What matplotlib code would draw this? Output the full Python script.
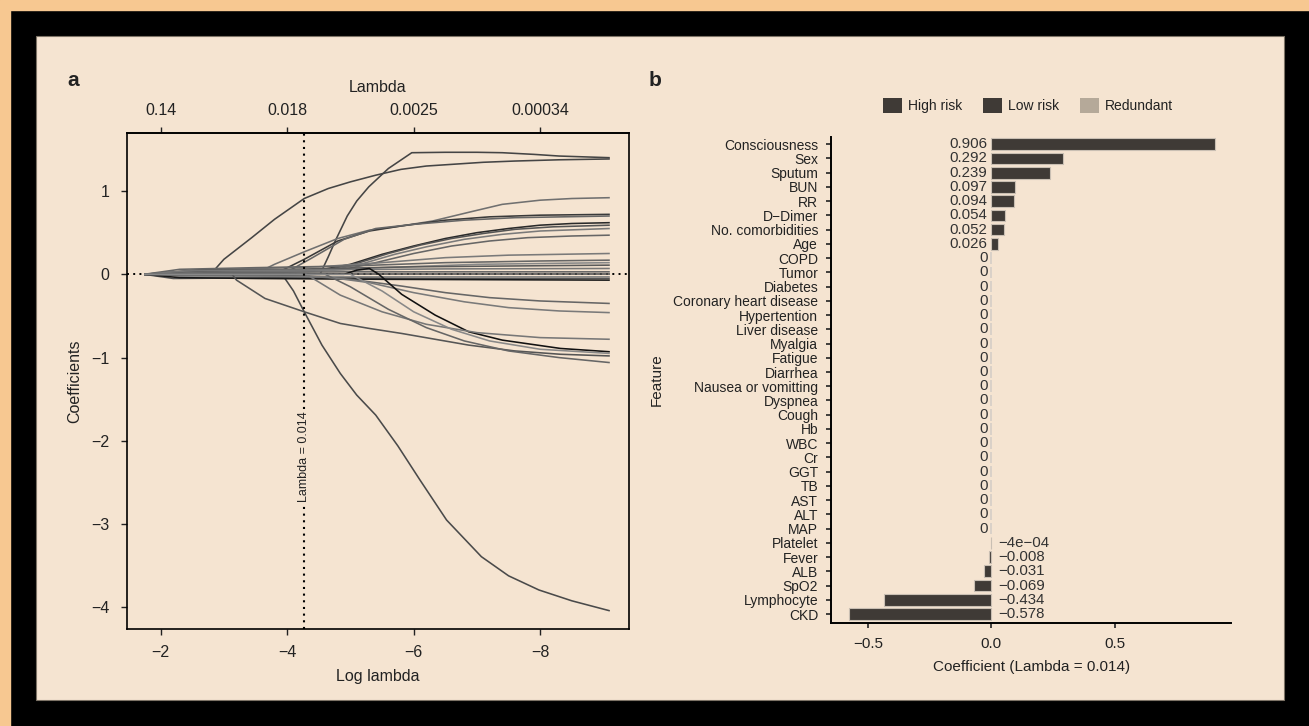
import numpy as np
import matplotlib
matplotlib.use("Agg")
import matplotlib.pyplot as plt
from matplotlib.patches import Rectangle, Patch

plt.rcParams['font.family'] = ['Liberation Sans', 'DejaVu Sans']
plt.rcParams['axes.unicode_minus'] = True

# ---- panel a: lasso coefficient paths, (log lambda, coefficient) ----
coef_paths = [
    # large positive paths
    [(-1.74, 0), (-2.79, 0), (-3.0, 0.18), (-3.44, 0.44), (-3.8, 0.66), (-4.27, 0.91), (-4.65, 1.03),
     (-5.0, 1.11), (-5.4, 1.19), (-5.8, 1.26), (-6.2, 1.30), (-6.6, 1.32), (-7.1, 1.345), (-7.6, 1.36),
     (-8.3, 1.375), (-9.1, 1.385)],
    [(-1.74, 0), (-4.52, 0), (-4.65, 0.21), (-4.76, 0.40), (-4.95, 0.70), (-5.1, 0.88), (-5.29, 1.05),
     (-5.6, 1.27), (-5.97, 1.46), (-6.5, 1.465), (-7.0, 1.465), (-7.4, 1.46), (-7.9, 1.44), (-8.3, 1.42),
     (-9.1, 1.40)],
    # large negative path
    [(-1.74, 0), (-3.92, 0), (-4.1, -0.2), (-4.27, -0.45), (-4.55, -0.85), (-4.84, -1.19), (-5.1, -1.45),
     (-5.4, -1.69), (-5.75, -2.06), (-6.1, -2.47), (-6.52, -2.95), (-7.07, -3.39), (-7.5, -3.62),
     (-7.98, -3.79), (-8.5, -3.92), (-9.1, -4.04)],
    # group rising to 0.7 - 0.9
    [(-1.74, 0), (-2.5, 0.02), (-3.56, 0.03), (-3.8, 0.12), (-4.27, 0.27), (-4.8, 0.43), (-5.3, 0.53),
     (-5.8, 0.58), (-6.3, 0.64), (-6.9, 0.75), (-7.4, 0.84), (-8.0, 0.89), (-8.5, 0.91), (-9.1, 0.92)],
    [(-1.74, 0), (-2.6, 0.03), (-3.9, 0.04), (-4.27, 0.18), (-4.8, 0.40), (-5.3, 0.52), (-5.8, 0.58),
     (-6.5, 0.65), (-7.2, 0.69), (-8.0, 0.71), (-9.1, 0.72)],
    [(-1.74, 0), (-3.0, 0.04), (-4.05, 0.05), (-4.4, 0.2), (-4.9, 0.42), (-5.4, 0.55), (-6.0, 0.6),
     (-6.8, 0.65), (-7.6, 0.68), (-9.1, 0.70)],
    # group rising late to 0.45 - 0.6
    [(-1.74, 0), (-3.0, 0.05), (-4.5, 0.05), (-5.0, 0.12), (-5.5, 0.24), (-6.0, 0.34), (-6.5, 0.43),
     (-7.0, 0.50), (-7.5, 0.55), (-8.0, 0.59), (-8.5, 0.61), (-9.1, 0.62)],
    [(-1.74, 0), (-3.2, 0.04), (-4.6, 0.05), (-5.1, 0.13), (-5.6, 0.25), (-6.1, 0.35), (-6.6, 0.43),
     (-7.1, 0.49), (-7.6, 0.54), (-8.2, 0.57), (-9.1, 0.59)],
    [(-1.74, 0), (-3.5, 0.03), (-4.7, 0.05), (-5.2, 0.13), (-5.7, 0.24), (-6.2, 0.33), (-6.8, 0.42),
     (-7.4, 0.48), (-8.0, 0.52), (-9.1, 0.55)],
    [(-1.74, 0), (-3.6, 0.03), (-4.9, 0.06), (-5.4, 0.14), (-6.0, 0.25), (-6.6, 0.34), (-7.2, 0.40),
     (-7.8, 0.44), (-8.5, 0.46), (-9.1, 0.47)],
    # bundle close to zero
    [(-1.74, 0), (-2.5, 0.05), (-3.5, 0.07), (-4.5, 0.09), (-5.5, 0.14), (-6.5, 0.20), (-7.5, 0.23), (-9.1, 0.25)],
    [(-1.74, 0), (-2.3, 0.06), (-3.5, 0.08), (-5.0, 0.10), (-6.5, 0.14), (-8.0, 0.16), (-9.1, 0.17)],
    [(-1.74, 0), (-3.0, 0.02), (-4.2, 0.03), (-5.5, 0.08), (-7.0, 0.12), (-9.1, 0.14)],
    [(-1.74, 0), (-2.6, 0.05), (-4.0, 0.06), (-6.0, 0.09), (-9.1, 0.11)],
    [(-1.74, 0), (-2.4, 0.04), (-4.0, 0.05), (-6.5, 0.065), (-9.1, 0.07)],
    [(-1.74, 0), (-2.8, 0.02), (-5.0, 0.03), (-9.1, 0.03)],
    [(-1.74, 0), (-9.1, 0.0)],
    [(-1.74, 0), (-2.5, -0.03), (-5.0, -0.03), (-9.1, -0.03)],
    [(-1.74, 0), (-2.2, -0.05), (-4.0, -0.04), (-6.0, -0.05), (-9.1, -0.05)],
    [(-1.74, 0), (-2.3, -0.04), (-3.5, -0.05), (-5.5, -0.06), (-9.1, -0.07)],
    # slowly falling paths
    [(-1.74, 0), (-4.3, -0.02), (-5.0, -0.06), (-5.8, -0.14), (-6.5, -0.22), (-7.2, -0.28), (-8.0, -0.32), (-9.1, -0.35)],
    [(-1.74, 0), (-4.6, -0.03), (-5.3, -0.10), (-6.0, -0.22), (-6.8, -0.33), (-7.5, -0.40), (-8.3, -0.44), (-9.1, -0.46)],
    # paths falling to about -1
    [(-1.74, 0), (-4.9, 0.0), (-5.1, 0.05), (-5.3, 0.07), (-5.45, 0.0), (-5.6, -0.1), (-5.81, -0.24),
     (-6.34, -0.49), (-6.87, -0.69), (-7.4, -0.79), (-8.32, -0.89), (-9.1, -0.93)],
    [(-1.74, 0), (-3.13, 0), (-3.2, -0.07), (-3.65, -0.29), (-4.27, -0.45), (-4.84, -0.59), (-5.3, -0.65),
     (-5.81, -0.71), (-6.87, -0.85), (-7.6, -0.92), (-8.32, -0.96), (-9.1, -0.98)],
    [(-1.74, 0), (-4.3, 0), (-4.84, -0.25), (-5.5, -0.45), (-6.2, -0.60), (-7.0, -0.70), (-8.0, -0.76), (-9.1, -0.78)],
    [(-1.74, 0), (-4.6, 0), (-5.0, -0.15), (-5.6, -0.42), (-6.2, -0.64), (-6.8, -0.80), (-7.5, -0.92),
     (-8.3, -1.00), (-9.1, -1.06)],
    [(-1.74, 0), (-5.0, 0), (-5.5, -0.2), (-6.0, -0.45), (-6.6, -0.66), (-7.2, -0.80), (-8.0, -0.90), (-9.1, -0.95)],
]
path_colors = ['#454545', '#454545', '#4a4a4a',
               '#707070', '#3a3a3a', '#666666',
               '#2a2a2a', '#555555', '#7a7a7a', '#666666',
               '#7a7a7a', '#666666', '#888888', '#5a5a5a', '#777777', '#666666', '#505050', '#888888',
               '#555555', '#1a1a1a',
               '#666666', '#7a7a7a',
               '#111111', '#555555', '#777777', '#666666', '#888888']

best_log_lambda = -4.266
lambda_ticks = [-2, -4, -6, -8]

# ---- panel b: coefficients at lambda = 0.014 ----
features = ['Consciousness', 'Sex', 'Sputum', 'BUN', 'RR', 'D\u2212Dimer', 'No. comorbidities', 'Age',
            'COPD', 'Tumor', 'Diabetes', 'Coronary heart disease', 'Hypertention', 'Liver disease',
            'Myalgia', 'Fatigue', 'Diarrhea', 'Nausea or vomitting', 'Dyspnea', 'Cough', 'Hb', 'WBC',
            'Cr', 'GGT', 'TB', 'AST', 'ALT', 'MAP', 'Platelet', 'Fever', 'ALB', 'SpO2', 'Lymphocyte', 'CKD']
coefs = [0.906, 0.292, 0.239, 0.097, 0.094, 0.054, 0.052, 0.026,
         0, 0, 0, 0, 0, 0, 0, 0, 0, 0, 0, 0, 0, 0, 0, 0, 0, 0, 0, 0,
         -0.0004, -0.008, -0.031, -0.069, -0.434, -0.578]
coef_labels = ['0.906', '0.292', '0.239', '0.097', '0.094', '0.054', '0.052', '0.026'] + ['0'] * 20 + \
              ['\u22124e\u221204', '\u22120.008', '\u22120.031', '\u22120.069', '\u22120.434', '\u22120.578']
risk_names = ['High risk', 'Low risk', 'Redundant']
risk_colors = ['#3f3a36', '#3f3a36', '#b5a999']

text_col = '#222222'
beige = '#f5e4d1'

fig = plt.figure(figsize=(13.09, 7.26), dpi=100, facecolor='black')
W, H = 1309, 726

def fx(px):
    return px / W

def fy(py):
    return 1 - py / H

# decorative frame, kept behind the axes
fig.patches.append(Rectangle((0, 0), fx(10), 1, transform=fig.transFigure, color='#f7c891', zorder=-10))
fig.patches.append(Rectangle((0, fy(10)), 1, 10 / H, transform=fig.transFigure, color='#f7c891', zorder=-10))
fig.patches.append(Rectangle((fx(36), fy(700)), fx(1284 - 36), 664 / H, transform=fig.transFigure,
                             facecolor=beige, edgecolor='#7d7366', lw=0.8, zorder=-10))

# ---------------- panel a ----------------
ax = fig.add_axes([fx(126.7), fy(629.3), fx(629.1 - 126.7), (629.3 - 133.3) / H])
ax.set_facecolor('none')
for path, col in zip(coef_paths, path_colors):
    xs = [p[0] for p in path]
    ys = [p[1] for p in path]
    ax.plot(xs, ys, color=col, lw=1.15, solid_capstyle='butt')
ax.axhline(0, color='black', lw=1.4, ls=(0, (1, 2.2)), zorder=1)
ax.axvline(best_log_lambda, color='black', lw=1.5, ls=(0, (1, 2.2)), zorder=3)
ax.text(best_log_lambda, -2.19, 'Lambda = 0.014', rotation=90, ha='center', va='center', fontsize=9,
        color=text_col, zorder=4, bbox=dict(facecolor=beige, edgecolor='none', pad=1.5))
ax.set_xlim(-1.464, -9.405)
ax.set_ylim(-4.262, 1.693)
ax.set_xticks(lambda_ticks)
ax.set_yticks([1, 0, -1, -2, -3, -4])
ax.tick_params(direction='out', length=4.5, width=1, labelsize=11.5, colors=text_col, pad=6.5)
ax.tick_params(axis='y', pad=8)
for s in ax.spines.values():
    s.set_linewidth(1.2)
ax.set_xlabel('Log lambda', fontsize=11.5, color=text_col)
ax.xaxis.set_label_coords(0.5, -(677 - 629.3) / 496)
ax.xaxis.label.set_va('center')
ax.set_ylabel('Coefficients', fontsize=11.5, color=text_col)
ax.yaxis.set_label_coords((75 - 126.7) / 502.4, 0.5)
ax.yaxis.label.set_va('center')

sec = ax.secondary_xaxis('top')
sec.set_xticks(lambda_ticks, labels=[f"{np.exp(t):.2g}" for t in lambda_ticks])
sec.tick_params(direction='out', length=4.5, width=1, labelsize=11.5, colors=text_col, pad=6.5)
sec.spines['top'].set_linewidth(1.2)
fig.text(fx(377.9), fy(87), 'Lambda', fontsize=11.5, color=text_col, ha='center', va='center')

fig.text(fx(73), fy(80), 'a', fontsize=15, fontweight='bold', color=text_col, ha='center', va='center')

# ---------------- panel b ----------------
bx = fig.add_axes([fx(831.4), fy(622.7), fx(1231.3 - 831.4), (622.7 - 136.7) / H])
bx.set_facecolor('none')
ypos = np.arange(len(features))
bar_cols = [risk_colors[0] if v > 0 else risk_colors[1] if v < 0 else risk_colors[2] for v in coefs]
edge_cols = ['#c9bfb3' if v != 0 else '#d8d0c8' for v in coefs]
bar_lws = [0.8 if v != 0 else 1.3 for v in coefs]
bx.barh(ypos, coefs, height=0.82, color=bar_cols, edgecolor=edge_cols, lw=bar_lws, zorder=2)
for y, v, lab in zip(ypos, coefs, coef_labels):
    if v < 0:
        bx.text(0.027, y, lab, ha='left', va='center', fontsize=10.8, color='#333333')
    else:
        bx.text(-0.015, y, lab, ha='right', va='center', fontsize=10.8, color='#333333')
bx.set_yticks(ypos, labels=features)
bx.set_ylim(33.61, -0.53)
bx.set_xlim(-0.649, 0.974)
bx.set_xticks([-0.5, 0.0, 0.5], labels=['\u22120.5', '0.0', '0.5'])
bx.tick_params(axis='y', direction='out', length=3.5, width=1.2, labelsize=10, colors=text_col, pad=6)
bx.tick_params(axis='x', direction='out', length=3.5, width=1.2, labelsize=11, colors=text_col, pad=7)
bx.spines['top'].set_visible(False)
bx.spines['right'].set_visible(False)
bx.spines['left'].set_linewidth(1.4)
bx.spines['bottom'].set_linewidth(1.4)
bx.set_xlabel('Coefficient (Lambda = 0.014)', fontsize=11, color=text_col)
bx.xaxis.set_label_coords(0.5, -(667 - 622.7) / 486)
bx.xaxis.label.set_va('center')
bx.set_ylabel('Feature', fontsize=11, color=text_col)
bx.yaxis.set_label_coords((657 - 831.4) / 399.9, 0.5)
bx.yaxis.label.set_va('center')

handles = [Patch(facecolor=c, edgecolor='none', label=n) for n, c in zip(risk_names, risk_colors)]
fig.legend(handles=handles, loc='center', bbox_to_anchor=(fx(1028), fy(105.8)), ncol=3, frameon=False,
           fontsize=10, handlelength=1.35, handleheight=1.3, handletextpad=0.45, columnspacing=1.5,
           labelcolor=text_col)

fig.text(fx(655), fy(80), 'b', fontsize=15, fontweight='bold', color=text_col, ha='center', va='center')

fig.savefig('out.png', dpi=100, facecolor=fig.get_facecolor())
